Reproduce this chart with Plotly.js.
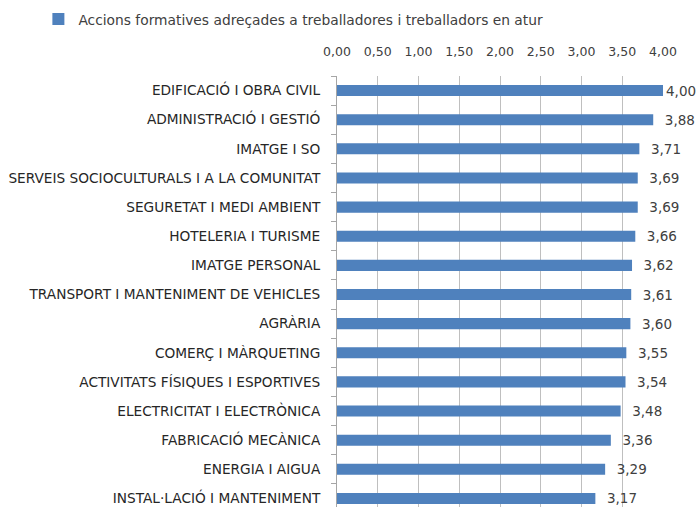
<!DOCTYPE html>
<html>
<head>
<meta charset="utf-8">
<script src="https://cdn.plot.ly/plotly-3.0.1.min.js"></script>
<style>
html,body{margin:0;padding:0;overflow:hidden;background:#fff;}
#chart{width:696px;height:520px;}
</style>
</head>
<body>
<div id="chart"></div>
<script>
const categories = [
  "EDIFICACIÓ I OBRA CIVIL",
  "ADMINISTRACIÓ I GESTIÓ",
  "IMATGE I SO",
  "SERVEIS SOCIOCULTURALS I A LA COMUNITAT",
  "SEGURETAT I MEDI AMBIENT",
  "HOTELERIA I TURISME",
  "IMATGE PERSONAL",
  "TRANSPORT I MANTENIMENT DE VEHICLES",
  "AGRÀRIA",
  "COMERÇ I MÀRQUETING",
  "ACTIVITATS FÍSIQUES I ESPORTIVES",
  "ELECTRICITAT I ELECTRÒNICA",
  "FABRICACIÓ MECÀNICA",
  "ENERGIA I AIGUA",
  "INSTAL·LACIÓ I MANTENIMENT"
];
const values = [4.00, 3.88, 3.71, 3.69, 3.69, 3.66, 3.62, 3.61, 3.60, 3.55, 3.54, 3.48, 3.36, 3.29, 3.17];
const seriesName = "Accions formatives adreçades a treballadores i treballadors en atur";
const xTickVals = [0, 0.5, 1, 1.5, 2, 2.5, 3, 3.5, 4];
const xMax = 4;

// data labels: comma decimal; a small gap before each label except at the axis end
const labels = values.map(v => (v >= xMax ? "" : "\u00a0\u00a0") + v.toFixed(2).replace(".", ","));

const trace = {
  type: "bar",
  orientation: "h",
  y: categories,
  x: values,
  name: seriesName,
  marker: {color: "#4f81bd"},
  text: labels,
  texttemplate: "%{text}",
  textposition: "outside",
  constraintext: "none",
  cliponaxis: false,
  textfont: {family: "DejaVu Sans", size: 13.5, color: "#404040"},
  hoverinfo: "none"
};

const layout = {
  width: 696,
  height: 520,
  separators: ",.",
  margin: {l: 337, r: 33, t: 76, b: 7},
  paper_bgcolor: "#fff",
  plot_bgcolor: "#fff",
  font: {family: "DejaVu Sans", color: "#404040", size: 12},
  bargap: 0.62,
  showlegend: true,
  legend: {
    orientation: "h",
    x: -0.916, xanchor: "left",
    y: 0.993, yref: "container", yanchor: "top",
    bgcolor: "rgba(0,0,0,0)",
    font: {family: "DejaVu Sans", size: 13.8, color: "#404040"},
    itemwidth: 30
  },
  xaxis: {
    side: "top",
    range: [0, xMax],
    tickvals: xTickVals,
    tickformat: ".2f",
    showgrid: true,
    gridcolor: "#bfbfbf",
    gridwidth: 1,
    zeroline: false,
    showline: false,
    ticks: "",
    ticklabelstandoff: 17,
    tickfont: {family: "DejaVu Sans", size: 12.5, color: "#404040"},
    fixedrange: true
  },
  yaxis: {
    autorange: "reversed",
    type: "category",
    showline: true,
    linecolor: "#a6a6a6",
    linewidth: 1,
    ticks: "outside",
    tickson: "boundaries",
    ticklen: 5,
    tickcolor: "#a6a6a6",
    showgrid: false,
    tickfont: {family: "DejaVu Sans", size: 13.7, color: "#262626"},
    ticklabelstandoff: 13,
    fixedrange: true
  }
};

Plotly.newPlot("chart", [trace], layout, {displayModeBar: false, staticPlot: true});
</script>
</body>
</html>
